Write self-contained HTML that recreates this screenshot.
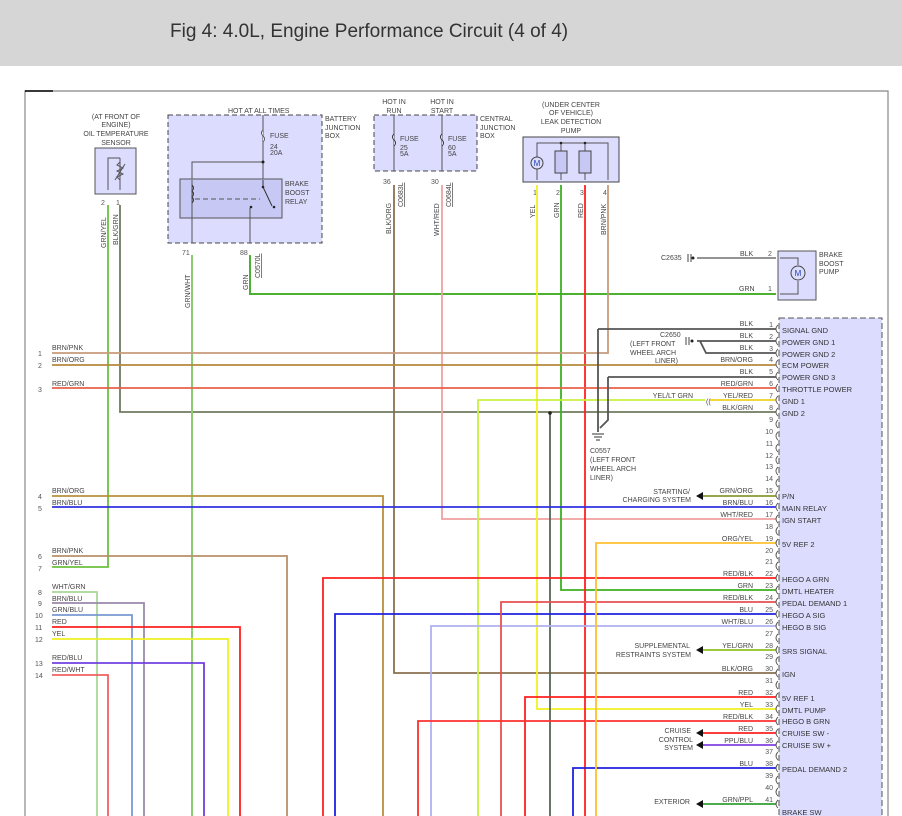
<!DOCTYPE html>
<html><head><meta charset="utf-8"><style>
html,body{margin:0;padding:0;background:#fff;}
svg{display:block;font-family:"Liberation Sans",Arial,sans-serif;}
.t{font-size:7px;fill:#444;}
.n{font-size:7px;fill:#555;}
.s{font-size:7.5px;fill:#333;}
</style></head><body>
<svg width="902" height="816" viewBox="0 0 902 816" xmlns="http://www.w3.org/2000/svg">
<rect x="0" y="0" width="902" height="66" fill="#d6d6d6"/>
<text x="170" y="37" font-size="19" fill="#333">Fig 4: 4.0L, Engine Performance Circuit (4 of 4)</text>
<!-- border -->
<path d="M25 816 V91 H888 V816" fill="none" stroke="#888" stroke-width="1.2"/>
<line x1="25" y1="91" x2="53" y2="91" stroke="#000" stroke-width="1.5"/>

<!-- Oil temp sensor -->
<text class="t" x="116" y="119" text-anchor="middle">(AT FRONT OF</text>
<text class="t" x="116" y="127" text-anchor="middle">ENGINE)</text>
<text class="t" x="116" y="136" text-anchor="middle">OIL TEMPERATURE</text>
<text class="t" x="116" y="145" text-anchor="middle">SENSOR</text>
<rect x="95" y="148" width="41" height="46" fill="#dcdcff" stroke="#555"/>
<path d="M108 190 V158 H120 M120 158 V190" fill="none" stroke="#555"/>
<path d="M120 162 l-3 3 l6 3 l-6 3 l6 3 l-6 3 l3 3" fill="none" stroke="#555"/>
<line x1="115" y1="180" x2="125" y2="164" stroke="#555"/>
<text class="n" x="101" y="205">2</text><text class="n" x="116" y="205">1</text>
<text class="t" transform="translate(106,248) rotate(-90)">GRN/YEL</text>
<text class="t" transform="translate(118,245) rotate(-90)">BLK/GRN</text>

<!-- Battery junction box -->
<text class="t" x="228" y="113">HOT AT ALL TIMES</text>
<rect x="168" y="115" width="154" height="128" fill="#dcdcff" stroke="#444" stroke-dasharray="5,3"/>
<text class="t" x="325" y="121">BATTERY</text><text class="t" x="325" y="130">JUNCTION</text><text class="t" x="325" y="138">BOX</text>
<line x1="263" y1="115" x2="263" y2="180" stroke="#555"/>
<path d="M263 130 q-3 3 0 6 q3 3 0 6" fill="#fff" stroke="#555"/>
<text class="t" x="270" y="138">FUSE</text><text class="t" x="270" y="149">24</text><text class="t" x="270" y="155">20A</text>
<path d="M263 162 H192 V180" fill="none" stroke="#555"/>
<circle cx="263" cy="162" r="1.5" fill="#222"/>
<rect x="180" y="179" width="102" height="39" fill="#c8c8f4" stroke="#555"/>
<text class="t" x="285" y="186">BRAKE</text><text class="t" x="285" y="195">BOOST</text><text class="t" x="285" y="204">RELAY</text>
<path d="M192 180 V243 M250 208 V243" stroke="#555" fill="none"/>
<path d="M192 185 q3 3 0 6 q3 3 0 6 q3 3 0 6" fill="none" stroke="#333"/>
<line x1="195" y1="199" x2="260" y2="199" stroke="#555" stroke-dasharray="5,3"/>
<path d="M263 180 V187 L272 206" fill="none" stroke="#333"/>
<circle cx="263" cy="187" r="1.3" fill="#222"/><circle cx="274" cy="207" r="1.3" fill="#222"/><circle cx="251" cy="207" r="1.3" fill="#222"/>
<text class="n" x="182" y="255">71</text><text class="n" x="240" y="255">88</text>
<text class="t" transform="translate(190,308) rotate(-90)">GRN/WHT</text>
<text class="t" transform="translate(248,290) rotate(-90)">GRN</text>
<text class="t" transform="translate(260,278) rotate(-90)" text-decoration="underline">C0570L</text>

<!-- Central junction box -->
<text class="t" x="394" y="104" text-anchor="middle">HOT IN</text><text class="t" x="394" y="113" text-anchor="middle">RUN</text>
<text class="t" x="442" y="104" text-anchor="middle">HOT IN</text><text class="t" x="442" y="113" text-anchor="middle">START</text>
<rect x="374" y="115" width="103" height="56" fill="#dcdcff" stroke="#444" stroke-dasharray="5,3"/>
<text class="t" x="480" y="121">CENTRAL</text><text class="t" x="480" y="130">JUNCTION</text><text class="t" x="480" y="138">BOX</text>
<line x1="394" y1="115" x2="394" y2="171" stroke="#555"/><line x1="442" y1="115" x2="442" y2="171" stroke="#555"/>
<path d="M394 134 q-3 3 0 6 q3 3 0 6" fill="#fff" stroke="#333"/><path d="M442 134 q-3 3 0 6 q3 3 0 6" fill="#fff" stroke="#333"/>
<text class="t" x="400" y="141">FUSE</text><text class="t" x="400" y="150">25</text><text class="t" x="400" y="156">5A</text>
<text class="t" x="448" y="141">FUSE</text><text class="t" x="448" y="150">60</text><text class="t" x="448" y="156">5A</text>
<text class="n" x="383" y="184">36</text><text class="n" x="431" y="184">30</text>
<text class="t" transform="translate(391,234) rotate(-90)">BLK/ORG</text>
<text class="t" transform="translate(403,207) rotate(-90)" text-decoration="underline">C0683L</text>
<text class="t" transform="translate(439,236) rotate(-90)">WHT/RED</text>
<text class="t" transform="translate(451,207) rotate(-90)" text-decoration="underline">C0684L</text>

<!-- Leak detection pump -->
<text class="t" x="571" y="107" text-anchor="middle">(UNDER CENTER</text><text class="t" x="571" y="115" text-anchor="middle">OF VEHICLE)</text>
<text class="t" x="571" y="124" text-anchor="middle">LEAK DETECTION</text><text class="t" x="571" y="133" text-anchor="middle">PUMP</text>
<rect x="523" y="137" width="96" height="45" fill="#dcdcff" stroke="#444"/>
<path d="M537 180 V143 H608 V180 M561 143 V180 M585 143 V180" fill="none" stroke="#555"/>
<circle cx="537" cy="163" r="6" fill="#dcdcff" stroke="#444"/><text x="537" y="166" font-size="8" text-anchor="middle" fill="#24a">M</text>
<rect x="555" y="151" width="12" height="22" fill="#c8c8f4" stroke="#444"/><rect x="579" y="151" width="12" height="22" fill="#c8c8f4" stroke="#444"/>
<circle cx="561" cy="143" r="1.3" fill="#222"/><circle cx="585" cy="143" r="1.3" fill="#222"/>
<text class="n" x="533" y="195">1</text><text class="n" x="556" y="195">2</text><text class="n" x="580" y="195">3</text><text class="n" x="603" y="195">4</text>
<text class="t" transform="translate(535,218) rotate(-90)">YEL</text>
<text class="t" transform="translate(559,218) rotate(-90)">GRN</text>
<text class="t" transform="translate(583,218) rotate(-90)">RED</text>
<text class="t" transform="translate(606,235) rotate(-90)">BRN/PNK</text>

<!-- Brake boost pump -->
<rect x="778" y="251" width="38" height="49" fill="#dcdcff" stroke="#555"/>
<path d="M780 258 H798 V265 M798 281 V294 H780" fill="none" stroke="#555"/>
<circle cx="798" cy="273" r="7" fill="#dcdcff" stroke="#444"/><text x="798" y="276" font-size="8" text-anchor="middle" fill="#24a">M</text>
<text class="t" x="819" y="257">BRAKE</text><text class="t" x="819" y="266">BOOST</text><text class="t" x="819" y="274">PUMP</text>
<text class="t" x="661" y="260">C2635</text>
<path d="M688 254 v8 M691 254 v8" stroke="#444"/><circle cx="693" cy="258" r="1.5" fill="#222"/>
<line x1="697" y1="258" x2="776" y2="258" stroke="#555" stroke-width="1.2"/>
<text class="t" x="740" y="256">BLK</text><text class="n" x="768" y="256">2</text>
<text class="t" x="739" y="291">GRN</text><text class="n" x="768" y="291">1</text>

<!-- Wires -->
<g fill="none" stroke-width="1.8">
<path d="M108 205 V567 H52" stroke="#6cc040"/>
<path d="M120 205 V412 H776" stroke="#707a60"/>
<path d="M192 255 V816" stroke="#88cc70" stroke-width="2"/>
<path d="M250 255 V294 H776" stroke="#4cb030" stroke-width="2"/>
<path d="M394 185 V673 H776" stroke="#8a7050"/>
<path d="M442 185 V519 H776" stroke="#f0a0a0"/>
<path d="M537 185 V709 H776" stroke="#f0f020"/>
<path d="M561 185 V590 H776" stroke="#3cb020"/>
<path d="M585 185 V816" stroke="#ff2020"/>
<path d="M608 185 V353 H52" stroke="#c89a7a"/>
<path d="M52 365 H776" stroke="#b58a3a"/>
<path d="M52 388 H776" stroke="#e8604a"/>
<path d="M478 816 V400 H705" stroke="#c8f040"/>
<path d="M710 400 H776" stroke="#f0d020"/>
<path d="M550 413 V816" stroke="#556655"/>
<path d="M52 496 H383 V816" stroke="#b8903a"/>
<path d="M52 507 H776" stroke="#3030e0"/>
<path d="M52 556 H287 V816" stroke="#b8906a"/>
<path d="M52 592 H97 V816" stroke="#a8d898"/>
<path d="M52 603 H144 V816" stroke="#9a8aaa"/>
<path d="M52 615 H132 V816" stroke="#7a9ad0"/>
<path d="M52 627 H240 V816" stroke="#ff2020"/>
<path d="M52 639 H228 V816" stroke="#f0f020"/>
<path d="M52 663 H204 V816" stroke="#7040e0"/>
<path d="M52 675 H108 V816" stroke="#f06060"/>
<path d="M323 816 V578 H776" stroke="#ff2020"/>
<path d="M335 816 V614 H776" stroke="#2020e0"/>
<path d="M431 816 V626 H776" stroke="#b0b0f0"/>
<path d="M501 816 V602 H776" stroke="#e85050"/>
<path d="M525 816 V697 H776" stroke="#ff2020"/>
<path d="M418 816 V721 H776" stroke="#ff3030"/>
<path d="M573 816 V768 H776" stroke="#2020e0"/>
<path d="M596 816 V543 H776" stroke="#ffc030"/>
<path d="M700 496 H776" stroke="#8a9a30"/>
<path d="M700 650 H776" stroke="#90c020"/>
<path d="M700 733 H776" stroke="#ff2020"/>
<path d="M700 745 H776" stroke="#8040e0"/>
<path d="M700 804 H776" stroke="#30a030"/>
<path d="M598 329 H776 M598 329 V432" stroke="#555"/>
<path d="M608 377 H776 M608 377 V420 L600 428" stroke="#555"/>
<path d="M697 341 H776 M700 341 L706 353 H776" stroke="#555"/>
</g>
<circle cx="550" cy="413" r="1.8" fill="#222"/>
<text class="t" x="706" y="404" font-size="9">((</text>
<!-- grounds -->
<path d="M592 434 h12 M594 437 h8 M596 440 h4" stroke="#333"/>
<text class="t" x="590" y="453">C0557</text><text class="t" x="590" y="462">(LEFT FRONT</text><text class="t" x="590" y="471">WHEEL ARCH</text><text class="t" x="590" y="480">LINER)</text>
<path d="M686 337 v8 M689 337 v8" stroke="#444"/><circle cx="692" cy="341" r="1.5" fill="#222"/>
<text class="t" x="660" y="337">C2650</text><text class="t" x="630" y="346">(LEFT FRONT</text><text class="t" x="630" y="355">WHEEL ARCH</text><text class="t" x="655" y="363">LINER)</text>

<!-- Left row labels -->
<g class="n">
<text x="38" y="356">1</text><text x="38" y="368">2</text><text x="38" y="392">3</text><text x="38" y="499">4</text><text x="38" y="511">5</text>
<text x="38" y="559">6</text><text x="38" y="571">7</text><text x="38" y="595">8</text><text x="38" y="606">9</text><text x="35" y="618">10</text>
<text x="35" y="630">11</text><text x="35" y="642">12</text><text x="35" y="666">13</text><text x="35" y="678">14</text>
</g>
<g class="t">
<text x="52" y="350">BRN/PNK</text><text x="52" y="362">BRN/ORG</text><text x="52" y="386">RED/GRN</text><text x="52" y="493">BRN/ORG</text><text x="52" y="505">BRN/BLU</text>
<text x="52" y="553">BRN/PNK</text><text x="52" y="565">GRN/YEL</text><text x="52" y="589">WHT/GRN</text><text x="52" y="601">BRN/BLU</text><text x="52" y="612">GRN/BLU</text>
<text x="52" y="624">RED</text><text x="52" y="636">YEL</text><text x="52" y="660">RED/BLU</text><text x="52" y="672">RED/WHT</text>
</g>

<!-- ECM box -->
<rect x="779" y="318" width="103" height="510" fill="#dcdcff" stroke="#555" stroke-dasharray="6,3"/>
<g fill="none" stroke="#555" stroke-width="0.9">
<path d="M778 325 q-4 4 0 8 M778 337 q-4 4 0 8 M778 349 q-4 4 0 8 M778 360 q-4 4 0 8 M778 372 q-4 4 0 8 M778 384 q-4 4 0 8 M778 396 q-4 4 0 8 M778 408 q-4 4 0 8 M778 420 q-4 4 0 8 M778 432 q-4 4 0 8 M778 444 q-4 4 0 8 M778 456 q-4 4 0 8 M778 467 q-4 4 0 8 M778 479 q-4 4 0 8 M778 491 q-4 4 0 8 M778 503 q-4 4 0 8 M778 515 q-4 4 0 8 M778 527 q-4 4 0 8 M778 539 q-4 4 0 8 M778 551 q-4 4 0 8 M778 562 q-4 4 0 8 M778 574 q-4 4 0 8 M778 586 q-4 4 0 8 M778 598 q-4 4 0 8 M778 610 q-4 4 0 8 M778 622 q-4 4 0 8 M778 634 q-4 4 0 8 M778 646 q-4 4 0 8 M778 657 q-4 4 0 8 M778 669 q-4 4 0 8 M778 681 q-4 4 0 8 M778 693 q-4 4 0 8 M778 705 q-4 4 0 8 M778 717 q-4 4 0 8 M778 729 q-4 4 0 8 M778 741 q-4 4 0 8 M778 752 q-4 4 0 8 M778 764 q-4 4 0 8 M778 776 q-4 4 0 8 M778 788 q-4 4 0 8 M778 800 q-4 4 0 8"/>
</g>
<g class="n" text-anchor="end">
<text x="773" y="327">1</text><text x="773" y="339">2</text><text x="773" y="351">3</text><text x="773" y="362">4</text><text x="773" y="374">5</text><text x="773" y="386">6</text><text x="773" y="398">7</text><text x="773" y="410">8</text>
<text x="773" y="422">9</text><text x="773" y="434">10</text><text x="773" y="446">11</text><text x="773" y="458">12</text><text x="773" y="469">13</text><text x="773" y="481">14</text><text x="773" y="493">15</text><text x="773" y="505">16</text>
<text x="773" y="517">17</text><text x="773" y="529">18</text><text x="773" y="541">19</text><text x="773" y="553">20</text><text x="773" y="564">21</text><text x="773" y="576">22</text><text x="773" y="588">23</text><text x="773" y="600">24</text>
<text x="773" y="612">25</text><text x="773" y="624">26</text><text x="773" y="636">27</text><text x="773" y="648">28</text><text x="773" y="659">29</text><text x="773" y="671">30</text><text x="773" y="683">31</text><text x="773" y="695">32</text>
<text x="773" y="707">33</text><text x="773" y="719">34</text><text x="773" y="731">35</text><text x="773" y="743">36</text><text x="773" y="754">37</text><text x="773" y="766">38</text><text x="773" y="778">39</text><text x="773" y="790">40</text><text x="773" y="802">41</text>
</g>
<g class="t" text-anchor="end">
<text x="753" y="326">BLK</text><text x="753" y="338">BLK</text><text x="753" y="350">BLK</text><text x="753" y="362">BRN/ORG</text><text x="753" y="374">BLK</text><text x="753" y="386">RED/GRN</text><text x="753" y="398">YEL/RED</text><text x="753" y="410">BLK/GRN</text>
<text x="693" y="398">YEL/LT GRN</text>
<text x="753" y="493">GRN/ORG</text><text x="753" y="505">BRN/BLU</text><text x="753" y="517">WHT/RED</text><text x="753" y="541">ORG/YEL</text>
<text x="753" y="576">RED/BLK</text><text x="753" y="588">GRN</text><text x="753" y="600">RED/BLK</text><text x="753" y="612">BLU</text><text x="753" y="624">WHT/BLU</text><text x="753" y="648">YEL/GRN</text>
<text x="753" y="671">BLK/ORG</text><text x="753" y="695">RED</text><text x="753" y="707">YEL</text><text x="753" y="719">RED/BLK</text><text x="753" y="731">RED</text><text x="753" y="743">PPL/BLU</text><text x="753" y="766">BLU</text><text x="753" y="802">GRN/PPL</text>
<text x="690" y="494">STARTING/</text><text x="691" y="502">CHARGING SYSTEM</text>
<text x="690" y="648">SUPPLEMENTAL</text><text x="691" y="657">RESTRAINTS SYSTEM</text>
<text x="691" y="733">CRUISE</text><text x="693" y="742">CONTROL</text><text x="693" y="750">SYSTEM</text>
<text x="690" y="804">EXTERIOR</text>
</g>
<g fill="#111">
<path d="M696 496 l7 -4 v8z"/><path d="M696 650 l7 -4 v8z"/><path d="M696 733 l7 -4 v8z"/><path d="M696 745 l7 -4 v8z"/><path d="M696 804 l7 -4 v8z"/>
</g>
<g class="s">
<text x="782" y="333">SIGNAL GND</text><text x="782" y="345">POWER GND 1</text><text x="782" y="357">POWER GND 2</text><text x="782" y="368">ECM POWER</text>
<text x="782" y="380">POWER GND 3</text><text x="782" y="392">THROTTLE POWER</text><text x="782" y="404">GND 1</text><text x="782" y="416">GND 2</text>
<text x="782" y="499">P/N</text><text x="782" y="511">MAIN RELAY</text><text x="782" y="523">IGN START</text><text x="782" y="547">5V REF 2</text>
<text x="782" y="582">HEGO A GRN</text><text x="782" y="594">DMTL HEATER</text><text x="782" y="606">PEDAL DEMAND 1</text><text x="782" y="618">HEGO A SIG</text><text x="782" y="630">HEGO B SIG</text>
<text x="782" y="654">SRS SIGNAL</text><text x="782" y="677">IGN</text><text x="782" y="701">5V REF 1</text><text x="782" y="713">DMTL PUMP</text><text x="782" y="724">HEGO B GRN</text>
<text x="782" y="736">CRUISE SW -</text><text x="782" y="748">CRUISE SW +</text><text x="782" y="772">PEDAL DEMAND 2</text><text x="782" y="815">BRAKE SW</text>
</g>
</svg>
</body></html>
